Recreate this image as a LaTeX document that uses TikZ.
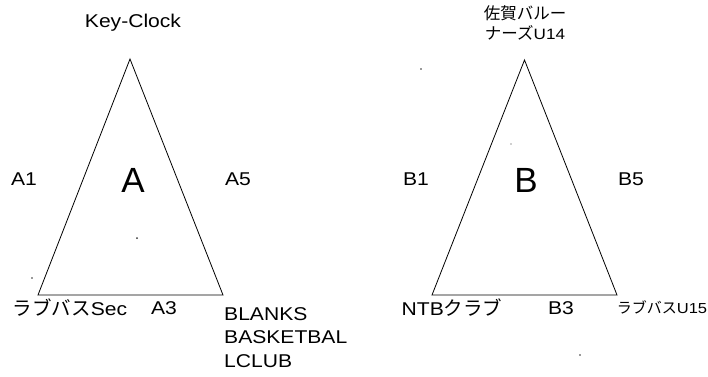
\documentclass[tikz,border=0pt]{standalone}
\usepackage{fontspec}
\setmainfont{Liberation Sans}[FakeStretch=1.14]
\newfontfamily\plainsans{Liberation Sans}
\newfontfamily\jp{Noto Sans CJK JP}
\begin{document}
\begin{tikzpicture}[x=1pt,y=-1pt,
  lbl/.style={inner sep=0pt,font=\fontsize{18.5}{22}\selectfont},
  small/.style={inner sep=0pt,font=\fontsize{14.5}{17}\selectfont},
  biglbl/.style={inner sep=0pt,font=\plainsans\fontsize{35}{40}\selectfont},
  tri/.style={draw=black,line width=0.8pt,line join=miter},
  speck/.style={fill=black!80}]
\useasboundingbox (0,0) rectangle (708,376);
% triangle A
\coordinate (aT) at (130,59);
\coordinate (aL) at (38,295);
\coordinate (aR) at (223,295);
\draw[tri] (aT) -- (aL) -- (aR) -- cycle;
% triangle B
\coordinate (bT) at (524.5,60);
\coordinate (bL) at (432,295);
\coordinate (bR) at (617,295);
\draw[tri] (bT) -- (bL) -- (bR) -- cycle;
% labels A
\node[lbl] (keyclock) at (133,23) {Key-Clock};
\node[lbl] (a1) at (24,179) {A1};
\node[biglbl] (abig) at (133,180) {A};
\node[lbl] (a5) at (238,179) {A5};
\node[lbl] (aleft) at (70,308) {{\jp\fontsize{19.5}{22}\selectfont ラブバス}Sec};
\node[lbl] (a3) at (164,308) {A3};
\node[lbl,anchor=north west,align=left,font=\fontsize{18.5}{23.5}\selectfont] (blanks) at (224,307) {BLANKS\\BASKETBAL\\LCLUB};
% labels B
\node[small,align=center,font=\jp\fontsize{16.5}{20}\selectfont] (saga) at (525,23) {佐賀バルー\\ナーズ{\rmfamily\fontsize{15}{20}\selectfont U14}};
\node[lbl] (b1) at (416,179) {B1};
\node[biglbl] (bbig) at (526,180) {B};
\node[lbl] (b5) at (631,179) {B5};
\node[lbl] (bleft) at (452,308) {NTB{\jp\fontsize{19.5}{22}\selectfont クラブ}};
\node[lbl] (b3) at (561,308) {B3};
\node[small] (bright) at (662,307) {{\jp\fontsize{15}{17}\selectfont ラブバス}U15};
% scan specks
\fill[speck] (137,238) circle (1);
\fill[speck] (32,278) circle (0.8);
\fill[speck] (421,69) circle (0.8);
\fill[speck] (511,144) circle (0.6);
\fill[speck] (580,355) circle (0.8);
\end{tikzpicture}
\end{document}
